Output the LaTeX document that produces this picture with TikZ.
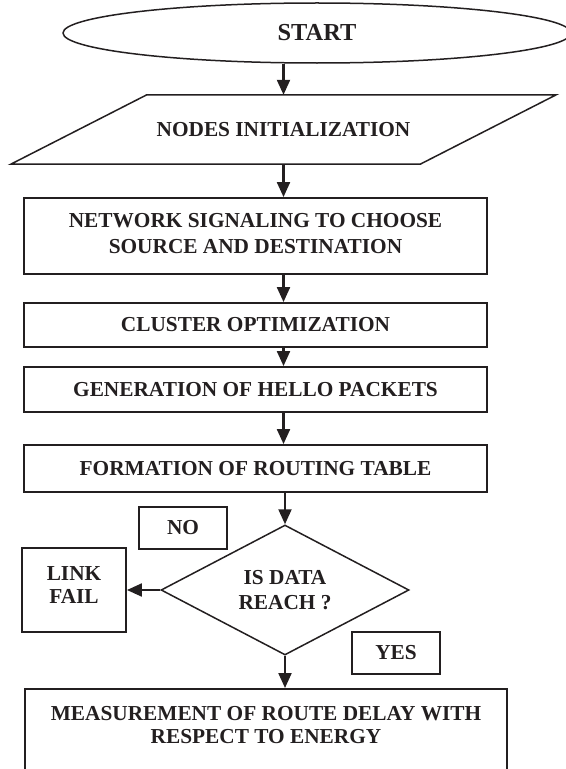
\documentclass[tikz,border=0pt]{standalone}
\usepackage{fontspec}
\setmainfont{Liberation Serif}
\usetikzlibrary{shapes.geometric,arrows.meta,calc}
\definecolor{ink}{HTML}{231F20}
\begin{document}
\begin{tikzpicture}[x=1bp,y=-1bp,
  every node/.style={font=\fontsize{21.4}{25}\selectfont\bfseries, text=ink, inner sep=0pt, align=center},
  box/.style={draw=ink, line width=1.9bp, rectangle},
  thin/.style={draw=ink, line width=1.5bp},
  arr/.style={draw=ink, line width=2.2bp, -{Triangle[length=15bp,width=13bp]}},
]
\useasboundingbox (0,0) rectangle (566,769);
\clip (0,0) rectangle (566,769);

\node[thin, ellipse, minimum width=508bp, minimum height=60bp,
      font=\fontsize{24.5}{28}\selectfont\bfseries] (start) at (317,33) {START};

\node[minimum width=409bp, minimum height=69bp] (init) at (283.5,129.5) {NODES INITIALIZATION};
\draw[thin, line join=miter] ($(init.north west)+(68,0)$) -- ($(init.north east)+(68,0)$)
  -- ($(init.south east)+(-68,0)$) -- ($(init.south west)+(-68,0)$) -- cycle;

\node[box, minimum width=463bp, minimum height=76bp, text depth=6bp,
      font=\fontsize{21.4}{26}\selectfont\bfseries] (net) at (255.5,236)
      {NETWORK SIGNALING TO CHOOSE\\SOURCE AND DESTINATION};
\node[box, minimum width=463bp, minimum height=44bp] (clus) at (255.5,325) {CLUSTER OPTIMIZATION};
\node[box, minimum width=463bp, minimum height=45bp] (gen) at (255.5,389.5) {GENERATION OF HELLO PACKETS};
\node[box, minimum width=463bp, minimum height=47bp] (form) at (255.5,468.5) {FORMATION OF ROUTING TABLE};

\node[box, minimum width=88bp, minimum height=42bp] (no) at (183,528) {NO};
\node[thin, diamond, shape aspect=2, minimum width=248bp, minimum height=130bp] (dia) at (285,590)
      {IS DATA\\REACH ?};
\node[box, minimum width=104bp, minimum height=84bp, text depth=10bp,
      font=\fontsize{21.4}{23}\selectfont\bfseries] (link) at (74,590) {LINK\\FAIL};
\node[box, minimum width=88bp, minimum height=42bp] (yes) at (396,653) {YES};

\node[box, anchor=north, minimum width=482bp, inner ysep=17bp, text depth=80bp,
      font=\fontsize{21.4}{24}\selectfont\bfseries] (meas) at (266,688)
      {MEASUREMENT OF ROUTE DELAY WITH\\RESPECT TO ENERGY};

\draw[arr] (init.north |- start.south) -- (init.north);
\draw[arr] (init.south) -- (init.south |- net.north);
\draw[arr] (net.south -| init) -- (clus.north -| init);
\draw[arr] (clus.south -| init) -- (gen.north -| init);
\draw[arr] (gen.south -| init) -- (form.north -| init);
\draw[arr] (form.south -| dia.north) -- (dia.north);
\draw[arr] (dia.west) -- (link.east);
\draw[arr] (dia.south) -- (dia.south |- meas.north);
\end{tikzpicture}
\end{document}
